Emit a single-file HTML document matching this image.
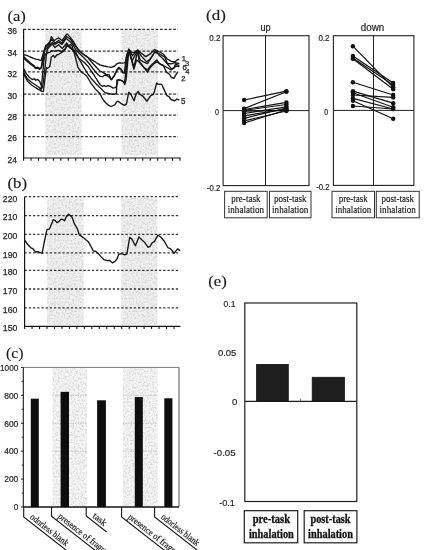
<!DOCTYPE html>
<html><head><meta charset="utf-8"><title>Figure</title>
<style>
html,body{margin:0;padding:0;background:#fff;}
body{width:426px;height:550px;overflow:hidden;font-family:"Liberation Sans", sans-serif;}
svg{display:block;will-change:transform;}
</style></head>
<body>
<svg width="426" height="550" viewBox="0 0 426 550">
<rect width="426" height="550" fill="#fff"/>
<defs>
<filter id="stip" x="0" y="0" width="100%" height="100%" color-interpolation-filters="sRGB">
<feTurbulence type="fractalNoise" baseFrequency="0.55" numOctaves="2" seed="7" result="n"/>
<feColorMatrix in="n" type="matrix" values="0 0 0 0 0.62  0 0 0 0 0.62  0 0 0 0 0.62  0 0 0 -1.6 0.92" result="d"/>
<feComposite in="d" in2="SourceGraphic" operator="in"/>
</filter>
</defs>
<text x="7.40" y="20.60" font-family='"Liberation Serif", serif' font-size="15.5" text-anchor="start" font-weight="normal" fill="#1c1c1c" textLength="18.5" lengthAdjust="spacingAndGlyphs" stroke="#1c1c1c" stroke-width="0.15">(a)</text>
<rect x="45.30" y="29.80" width="36.30" height="125.70" fill="#f0f0f0" stroke="none" stroke-width="1"/>
<rect x="45.30" y="29.80" width="36.30" height="125.70" fill="#fff" stroke="none" stroke-width="1" filter="url(#stip)" opacity="0.55"/>
<rect x="121.50" y="29.80" width="36.50" height="125.70" fill="#f0f0f0" stroke="none" stroke-width="1"/>
<rect x="121.50" y="29.80" width="36.50" height="125.70" fill="#fff" stroke="none" stroke-width="1" filter="url(#stip)" opacity="0.55"/>
<line x1="23.60" y1="29.30" x2="178.00" y2="29.30" stroke="#333" stroke-width="1.3" stroke-dasharray="2.7 1.7"/>
<line x1="23.60" y1="51.10" x2="178.00" y2="51.10" stroke="#333" stroke-width="1.3" stroke-dasharray="2.7 1.7"/>
<line x1="23.60" y1="71.80" x2="178.00" y2="71.80" stroke="#333" stroke-width="1.3" stroke-dasharray="2.7 1.7"/>
<line x1="23.60" y1="94.20" x2="178.00" y2="94.20" stroke="#333" stroke-width="1.3" stroke-dasharray="2.7 1.7"/>
<line x1="23.60" y1="115.20" x2="178.00" y2="115.20" stroke="#333" stroke-width="1.3" stroke-dasharray="2.7 1.7"/>
<line x1="23.60" y1="136.60" x2="178.00" y2="136.60" stroke="#333" stroke-width="1.3" stroke-dasharray="2.7 1.7"/>
<text x="7.40" y="34.10" font-family='"Liberation Sans", sans-serif' font-size="9.2" text-anchor="start" font-weight="normal" fill="#262626" textLength="9.5" lengthAdjust="spacingAndGlyphs" stroke="#262626" stroke-width="0.25">36</text>
<text x="7.40" y="55.90" font-family='"Liberation Sans", sans-serif' font-size="9.2" text-anchor="start" font-weight="normal" fill="#262626" textLength="9.5" lengthAdjust="spacingAndGlyphs" stroke="#262626" stroke-width="0.25">34</text>
<text x="7.40" y="76.60" font-family='"Liberation Sans", sans-serif' font-size="9.2" text-anchor="start" font-weight="normal" fill="#262626" textLength="9.5" lengthAdjust="spacingAndGlyphs" stroke="#262626" stroke-width="0.25">32</text>
<text x="7.40" y="99.00" font-family='"Liberation Sans", sans-serif' font-size="9.2" text-anchor="start" font-weight="normal" fill="#262626" textLength="9.5" lengthAdjust="spacingAndGlyphs" stroke="#262626" stroke-width="0.25">30</text>
<text x="7.40" y="120.00" font-family='"Liberation Sans", sans-serif' font-size="9.2" text-anchor="start" font-weight="normal" fill="#262626" textLength="9.5" lengthAdjust="spacingAndGlyphs" stroke="#262626" stroke-width="0.25">28</text>
<text x="7.40" y="141.40" font-family='"Liberation Sans", sans-serif' font-size="9.2" text-anchor="start" font-weight="normal" fill="#262626" textLength="9.5" lengthAdjust="spacingAndGlyphs" stroke="#262626" stroke-width="0.25">26</text>
<text x="7.40" y="162.80" font-family='"Liberation Sans", sans-serif' font-size="9.2" text-anchor="start" font-weight="normal" fill="#262626" textLength="9.5" lengthAdjust="spacingAndGlyphs" stroke="#262626" stroke-width="0.25">24</text>
<line x1="23.60" y1="29.00" x2="23.60" y2="158.50" stroke="#161616" stroke-width="1.2"/>
<line x1="23.10" y1="158.00" x2="180.50" y2="158.00" stroke="#161616" stroke-width="1.2"/>
<line x1="23.60" y1="158.00" x2="23.60" y2="160.80" stroke="#161616" stroke-width="1.1"/>
<line x1="31.05" y1="158.00" x2="31.05" y2="160.80" stroke="#161616" stroke-width="1.1"/>
<line x1="38.50" y1="158.00" x2="38.50" y2="160.80" stroke="#161616" stroke-width="1.1"/>
<line x1="45.94" y1="158.00" x2="45.94" y2="160.80" stroke="#161616" stroke-width="1.1"/>
<line x1="53.39" y1="158.00" x2="53.39" y2="160.80" stroke="#161616" stroke-width="1.1"/>
<line x1="60.84" y1="158.00" x2="60.84" y2="160.80" stroke="#161616" stroke-width="1.1"/>
<line x1="68.29" y1="158.00" x2="68.29" y2="160.80" stroke="#161616" stroke-width="1.1"/>
<line x1="75.73" y1="158.00" x2="75.73" y2="160.80" stroke="#161616" stroke-width="1.1"/>
<line x1="83.18" y1="158.00" x2="83.18" y2="160.80" stroke="#161616" stroke-width="1.1"/>
<line x1="90.63" y1="158.00" x2="90.63" y2="160.80" stroke="#161616" stroke-width="1.1"/>
<line x1="98.08" y1="158.00" x2="98.08" y2="160.80" stroke="#161616" stroke-width="1.1"/>
<line x1="105.52" y1="158.00" x2="105.52" y2="160.80" stroke="#161616" stroke-width="1.1"/>
<line x1="112.97" y1="158.00" x2="112.97" y2="160.80" stroke="#161616" stroke-width="1.1"/>
<line x1="120.42" y1="158.00" x2="120.42" y2="160.80" stroke="#161616" stroke-width="1.1"/>
<line x1="127.87" y1="158.00" x2="127.87" y2="160.80" stroke="#161616" stroke-width="1.1"/>
<line x1="135.31" y1="158.00" x2="135.31" y2="160.80" stroke="#161616" stroke-width="1.1"/>
<line x1="142.76" y1="158.00" x2="142.76" y2="160.80" stroke="#161616" stroke-width="1.1"/>
<line x1="150.21" y1="158.00" x2="150.21" y2="160.80" stroke="#161616" stroke-width="1.1"/>
<line x1="157.66" y1="158.00" x2="157.66" y2="160.80" stroke="#161616" stroke-width="1.1"/>
<line x1="165.10" y1="158.00" x2="165.10" y2="160.80" stroke="#161616" stroke-width="1.1"/>
<line x1="172.55" y1="158.00" x2="172.55" y2="160.80" stroke="#161616" stroke-width="1.1"/>
<line x1="180.00" y1="158.00" x2="180.00" y2="160.80" stroke="#161616" stroke-width="1.1"/>
<polyline points="23.6,74.0 27.4,80.9 31.5,85.0 35.6,87.7 39.7,90.1 41.8,91.1 43.4,91.5 46.3,67.6 47.6,68.3 49.8,66.4 51.3,57.0 53.6,55.3 54.7,57.7 56.7,55.0 58.8,54.3 62.9,51.6 65.6,48.8 66.5,43.0 68.3,46.0 70.5,44.5 72.2,46.0 74.5,54.0 76.5,61.5 78.0,67.3 80.9,71.6 83.5,73.5 86.7,76.0 91.1,83.3 95.5,89.1 99.8,93.5 102.0,97.8 103.7,100.5 106.0,103.0 108.3,105.2 111.2,106.5 114.8,104.9 116.9,101.7 118.0,101.2 121.6,103.9 124.3,105.4 126.5,103.9 128.7,92.3 130.5,93.6 132.3,97.2 134.1,100.8 135.9,94.5 138.1,91.4 139.9,94.5 142.6,95.8 144.8,98.5 147.0,101.2 149.3,97.6 151.0,95.4 153.3,94.5 154.6,90.9 156.7,82.9 157.7,84.0 161.6,84.3 166.9,95.6 169.0,96.7 171.1,99.5 174.6,100.9 176.8,99.1 178.9,99.8" fill="none" stroke="#161616" stroke-width="1.35" stroke-linejoin="round" stroke-linecap="round"/>
<polyline points="23.6,72.0 27.4,78.8 31.5,82.2 35.6,85.0 39.7,87.7 41.0,90.8 44.0,60.0 45.3,54.0 47.3,53.0 50.0,52.1 51.8,50.7 55.0,51.2 58.2,50.3 61.8,51.6 65.5,48.5 67.5,45.5 70.0,48.0 72.9,50.0 75.1,50.5 78.0,57.1 83.8,67.3 88.2,74.5 91.1,78.2 95.5,83.3 99.8,87.6 102.0,89.6 104.9,92.6 108.2,93.4 111.4,94.2 114.7,94.2 116.4,93.4 117.0,80.0 119.6,79.9 122.1,80.8 123.7,82.0 124.7,84.5 126.1,80.0 128.8,50.0 133.9,69.2 136.5,60.0 139.1,62.0 143.8,67.4 147.5,72.0 150.4,67.4 154.1,63.6 156.9,61.7 160.7,64.5 163.2,65.5 166.5,72.1 169.4,74.2 171.4,77.5 173.9,78.3 176.0,74.6 177.6,72.1" fill="none" stroke="#161616" stroke-width="1.35" stroke-linejoin="round" stroke-linecap="round"/>
<polyline points="23.6,68.6 26.1,73.4 29.5,77.5 32.2,79.5 34.3,78.8 35.6,80.2 37.7,79.5 39.7,81.5 41.1,85.0 42.6,88.0 45.9,60.0 46.7,52.0 47.6,49.0 49.1,47.1 52.3,43.9 55.0,47.5 58.6,44.8 62.3,48.5 66.4,43.5 69.0,45.5 72.0,49.0 75.9,54.2 79.0,58.5 83.8,62.0 88.2,66.5 91.1,71.0 94.0,75.0 97.0,80.0 100.0,84.4 102.5,86.5 104.1,85.7 105.7,86.5 108.2,85.7 110.6,86.5 113.1,88.1 115.1,87.7 116.4,86.5 117.2,83.6 118.0,80.3 119.6,79.9 122.1,80.8 123.7,82.0 124.5,83.2 125.5,75.0 128.8,50.0 133.9,67.0 137.7,51.0 139.1,60.8 143.8,67.4 147.5,70.0 150.4,66.0 154.1,62.5 156.9,60.0 159.1,63.1 161.6,64.7 165.0,66.4 168.0,68.0 171.0,70.0 174.0,68.0 176.0,66.0 178.8,66.5" fill="none" stroke="#161616" stroke-width="1.35" stroke-linejoin="round" stroke-linecap="round"/>
<polyline points="23.6,58.2 26.1,60.5 28.8,62.8 31.5,65.0 34.3,67.0 35.6,68.5 37.7,68.0 39.7,69.4 41.5,67.5 43.1,60.0 44.8,50.0 46.8,48.0 49.1,45.5 52.3,42.5 55.0,44.4 58.6,42.0 62.0,44.4 66.0,38.5 70.0,41.5 73.0,45.0 76.0,50.0 79.5,53.5 83.0,57.0 86.0,60.0 89.5,64.0 92.9,68.5 96.5,73.0 100.0,76.3 102.5,76.7 104.9,75.0 107.4,75.8 110.0,78.0 111.4,79.8 114.3,75.8 117.2,70.0 118.8,68.2 121.3,70.3 122.9,72.8 124.5,73.2 125.5,71.0 126.5,62.0 128.8,49.5 132.0,60.8 137.7,50.5 140.0,59.8 143.8,62.2 147.5,63.6 151.0,58.0 155.5,50.5 159.0,55.0 163.2,59.0 168.1,64.7 171.4,68.8 173.9,68.0 175.5,63.9 178.8,65.5" fill="none" stroke="#161616" stroke-width="1.35" stroke-linejoin="round" stroke-linecap="round"/>
<polyline points="23.6,56.6 26.1,59.1 28.8,61.5 31.5,63.8 34.3,65.9 35.6,67.9 37.7,67.2 39.7,68.6 41.1,67.8 42.6,60.0 44.5,49.5 46.5,46.0 49.1,42.5 51.8,39.5 55.0,43.0 58.6,40.5 62.0,43.0 66.5,36.5 70.7,39.5 75.0,45.5 79.0,50.5 83.0,54.0 87.0,56.5 91.5,62.0 97.0,68.0 100.0,71.0 103.3,72.6 106.5,74.6 109.0,74.6 111.4,79.5 114.3,75.4 117.2,69.3 118.8,67.3 121.3,69.3 122.9,72.2 124.5,72.6 126.0,58.0 128.8,49.3 132.5,55.6 137.7,50.2 141.4,56.1 146.6,61.7 150.4,58.9 154.6,52.3 158.0,53.0 164.9,57.3 167.3,63.5 171.4,63.9 174.7,62.7 178.8,63.5" fill="none" stroke="#161616" stroke-width="1.35" stroke-linejoin="round" stroke-linecap="round"/>
<polyline points="23.6,54.7 27.4,55.7 30.2,57.0 32.9,58.1 35.6,59.1 37.7,59.3 39.7,60.1 41.1,60.7 42.4,56.3 43.8,51.6 45.8,45.4 47.5,44.6 49.5,44.0 51.3,36.6 54.0,40.7 56.5,39.0 58.8,37.9 62.2,40.7 64.5,37.0 67.0,33.9 70.7,37.8 74.0,42.5 77.4,48.5 81.0,52.5 85.2,55.8 89.0,58.0 92.6,60.4 96.5,62.8 100.0,64.8 104.1,66.0 108.2,66.9 111.4,67.3 114.7,66.0 117.2,63.6 119.6,62.8 122.1,63.2 124.5,62.8 126.2,61.5 127.0,55.0 128.8,49.1 131.0,52.0 133.9,52.8 137.7,50.0 141.4,53.3 145.7,56.6 149.9,54.2 154.6,49.5 158.0,51.0 163.2,54.0 167.3,59.0 171.4,61.4 175.1,61.8 176.8,60.2 178.8,59.4" fill="none" stroke="#161616" stroke-width="1.35" stroke-linejoin="round" stroke-linecap="round"/>
<text x="181.80" y="61.00" font-family='"Liberation Sans", sans-serif' font-size="7.6" text-anchor="start" font-weight="normal" fill="#1e1e1e" stroke="#1e1e1e" stroke-width="0.25">1</text>
<text x="184.90" y="65.60" font-family='"Liberation Sans", sans-serif' font-size="7.6" text-anchor="start" font-weight="normal" fill="#1e1e1e" stroke="#1e1e1e" stroke-width="0.25">3</text>
<text x="182.40" y="70.10" font-family='"Liberation Sans", sans-serif' font-size="7.6" text-anchor="start" font-weight="normal" fill="#1e1e1e" stroke="#1e1e1e" stroke-width="0.25">6</text>
<text x="185.30" y="74.30" font-family='"Liberation Sans", sans-serif' font-size="7.6" text-anchor="start" font-weight="normal" fill="#1e1e1e" stroke="#1e1e1e" stroke-width="0.25">4</text>
<text x="181.20" y="81.30" font-family='"Liberation Sans", sans-serif' font-size="7.6" text-anchor="start" font-weight="normal" fill="#1e1e1e" stroke="#1e1e1e" stroke-width="0.25">2</text>
<text x="180.90" y="103.80" font-family='"Liberation Sans", sans-serif' font-size="9.4" text-anchor="start" font-weight="normal" fill="#1e1e1e" textLength="4.5" lengthAdjust="spacingAndGlyphs" stroke="#1e1e1e" stroke-width="0.25">5</text>
<text x="7.50" y="187.50" font-family='"Liberation Serif", serif' font-size="15.5" text-anchor="start" font-weight="normal" fill="#1c1c1c" textLength="19.7" lengthAdjust="spacingAndGlyphs" stroke="#1c1c1c" stroke-width="0.15">(b)</text>
<rect x="47.00" y="198.00" width="36.70" height="126.70" fill="#f0f0f0" stroke="none" stroke-width="1"/>
<rect x="47.00" y="198.00" width="36.70" height="126.70" fill="#fff" stroke="none" stroke-width="1" filter="url(#stip)" opacity="0.55"/>
<rect x="121.30" y="198.00" width="36.20" height="126.70" fill="#f0f0f0" stroke="none" stroke-width="1"/>
<rect x="121.30" y="198.00" width="36.20" height="126.70" fill="#fff" stroke="none" stroke-width="1" filter="url(#stip)" opacity="0.55"/>
<line x1="24.60" y1="196.70" x2="179.20" y2="196.70" stroke="#383838" stroke-width="1.3" stroke-dasharray="2.3 1.9"/>
<line x1="24.60" y1="215.60" x2="179.20" y2="215.60" stroke="#383838" stroke-width="1.3" stroke-dasharray="2.3 1.9"/>
<line x1="24.60" y1="234.40" x2="179.20" y2="234.40" stroke="#383838" stroke-width="1.3" stroke-dasharray="2.3 1.9"/>
<line x1="24.60" y1="252.90" x2="179.20" y2="252.90" stroke="#383838" stroke-width="1.3" stroke-dasharray="2.3 1.9"/>
<line x1="24.60" y1="270.30" x2="179.20" y2="270.30" stroke="#383838" stroke-width="1.3" stroke-dasharray="2.3 1.9"/>
<line x1="24.60" y1="289.00" x2="179.20" y2="289.00" stroke="#383838" stroke-width="1.3" stroke-dasharray="2.3 1.9"/>
<line x1="24.60" y1="307.80" x2="179.20" y2="307.80" stroke="#383838" stroke-width="1.3" stroke-dasharray="2.3 1.9"/>
<text x="2.80" y="201.50" font-family='"Liberation Sans", sans-serif' font-size="9.2" text-anchor="start" font-weight="normal" fill="#262626" textLength="14.5" lengthAdjust="spacingAndGlyphs" stroke="#262626" stroke-width="0.25">220</text>
<text x="2.80" y="220.40" font-family='"Liberation Sans", sans-serif' font-size="9.2" text-anchor="start" font-weight="normal" fill="#262626" textLength="14.5" lengthAdjust="spacingAndGlyphs" stroke="#262626" stroke-width="0.25">210</text>
<text x="2.80" y="239.20" font-family='"Liberation Sans", sans-serif' font-size="9.2" text-anchor="start" font-weight="normal" fill="#262626" textLength="14.5" lengthAdjust="spacingAndGlyphs" stroke="#262626" stroke-width="0.25">200</text>
<text x="2.80" y="257.70" font-family='"Liberation Sans", sans-serif' font-size="9.2" text-anchor="start" font-weight="normal" fill="#262626" textLength="14.5" lengthAdjust="spacingAndGlyphs" stroke="#262626" stroke-width="0.25">190</text>
<text x="2.80" y="275.10" font-family='"Liberation Sans", sans-serif' font-size="9.2" text-anchor="start" font-weight="normal" fill="#262626" textLength="14.5" lengthAdjust="spacingAndGlyphs" stroke="#262626" stroke-width="0.25">180</text>
<text x="2.80" y="293.80" font-family='"Liberation Sans", sans-serif' font-size="9.2" text-anchor="start" font-weight="normal" fill="#262626" textLength="14.5" lengthAdjust="spacingAndGlyphs" stroke="#262626" stroke-width="0.25">170</text>
<text x="2.80" y="312.60" font-family='"Liberation Sans", sans-serif' font-size="9.2" text-anchor="start" font-weight="normal" fill="#262626" textLength="14.5" lengthAdjust="spacingAndGlyphs" stroke="#262626" stroke-width="0.25">160</text>
<text x="2.80" y="331.10" font-family='"Liberation Sans", sans-serif' font-size="9.2" text-anchor="start" font-weight="normal" fill="#262626" textLength="14.5" lengthAdjust="spacingAndGlyphs" stroke="#262626" stroke-width="0.25">150</text>
<line x1="24.60" y1="196.70" x2="24.60" y2="326.80" stroke="#161616" stroke-width="1.2"/>
<line x1="24.10" y1="326.30" x2="180.50" y2="326.30" stroke="#161616" stroke-width="1.2"/>
<line x1="24.60" y1="326.30" x2="24.60" y2="329.10" stroke="#161616" stroke-width="1.1"/>
<line x1="32.07" y1="326.30" x2="32.07" y2="329.10" stroke="#161616" stroke-width="1.1"/>
<line x1="39.54" y1="326.30" x2="39.54" y2="329.10" stroke="#161616" stroke-width="1.1"/>
<line x1="47.01" y1="326.30" x2="47.01" y2="329.10" stroke="#161616" stroke-width="1.1"/>
<line x1="54.48" y1="326.30" x2="54.48" y2="329.10" stroke="#161616" stroke-width="1.1"/>
<line x1="61.95" y1="326.30" x2="61.95" y2="329.10" stroke="#161616" stroke-width="1.1"/>
<line x1="69.42" y1="326.30" x2="69.42" y2="329.10" stroke="#161616" stroke-width="1.1"/>
<line x1="76.89" y1="326.30" x2="76.89" y2="329.10" stroke="#161616" stroke-width="1.1"/>
<line x1="84.36" y1="326.30" x2="84.36" y2="329.10" stroke="#161616" stroke-width="1.1"/>
<line x1="91.83" y1="326.30" x2="91.83" y2="329.10" stroke="#161616" stroke-width="1.1"/>
<line x1="99.30" y1="326.30" x2="99.30" y2="329.10" stroke="#161616" stroke-width="1.1"/>
<line x1="106.77" y1="326.30" x2="106.77" y2="329.10" stroke="#161616" stroke-width="1.1"/>
<line x1="114.24" y1="326.30" x2="114.24" y2="329.10" stroke="#161616" stroke-width="1.1"/>
<line x1="121.71" y1="326.30" x2="121.71" y2="329.10" stroke="#161616" stroke-width="1.1"/>
<line x1="129.18" y1="326.30" x2="129.18" y2="329.10" stroke="#161616" stroke-width="1.1"/>
<line x1="136.65" y1="326.30" x2="136.65" y2="329.10" stroke="#161616" stroke-width="1.1"/>
<line x1="144.12" y1="326.30" x2="144.12" y2="329.10" stroke="#161616" stroke-width="1.1"/>
<line x1="151.59" y1="326.30" x2="151.59" y2="329.10" stroke="#161616" stroke-width="1.1"/>
<line x1="159.06" y1="326.30" x2="159.06" y2="329.10" stroke="#161616" stroke-width="1.1"/>
<line x1="166.53" y1="326.30" x2="166.53" y2="329.10" stroke="#161616" stroke-width="1.1"/>
<line x1="174.00" y1="326.30" x2="174.00" y2="329.10" stroke="#161616" stroke-width="1.1"/>
<polyline points="24.6,240.2 27.0,243.5 29.5,246.5 31.0,247.8 32.8,248.7 34.3,250.5 35.7,252.0 38.1,251.7 39.8,252.5 42.2,253.1 44.5,241.0 46.9,229.6 49.2,229.1 50.4,226.7 53.3,219.7 55.1,220.3 56.9,222.6 59.2,221.4 61.0,219.1 63.3,219.7 64.5,220.8 66.3,216.7 68.4,214.2 70.4,215.6 72.1,217.3 74.2,223.4 76.3,226.9 77.7,229.7 79.2,234.6 84.1,238.2 88.3,241.7 91.1,246.6 93.2,250.8 96.0,251.5 99.6,255.1 103.8,259.6 107.3,260.7 109.4,260.3 112.3,262.8 115.1,261.4 117.2,258.6 118.6,254.4 121.4,253.7 124.8,254.9 126.9,253.9 129.7,237.4 131.9,239.1 135.4,245.8 138.9,237.0 141.7,239.8 144.5,242.2 148.1,247.3 150.2,246.1 152.3,242.6 154.4,241.6 157.9,235.1 160.7,237.0 164.3,241.2 167.8,247.5 170.6,248.9 174.1,253.2 177.6,248.9 179.7,250.4" fill="none" stroke="#161616" stroke-width="1.35" stroke-linejoin="round" stroke-linecap="round"/>
<text x="6.10" y="358.00" font-family='"Liberation Serif", serif' font-size="15.5" text-anchor="start" font-weight="normal" fill="#1c1c1c" textLength="17.4" lengthAdjust="spacingAndGlyphs" stroke="#1c1c1c" stroke-width="0.15">(c)</text>
<rect x="52.50" y="368.00" width="34.50" height="138.50" fill="#f5f5f5" stroke="none" stroke-width="1"/>
<rect x="52.50" y="368.00" width="34.50" height="138.50" fill="#fff" stroke="none" stroke-width="1" filter="url(#stip)" opacity="0.55"/>
<rect x="122.80" y="368.00" width="35.00" height="138.50" fill="#f5f5f5" stroke="none" stroke-width="1"/>
<rect x="122.80" y="368.00" width="35.00" height="138.50" fill="#fff" stroke="none" stroke-width="1" filter="url(#stip)" opacity="0.55"/>
<line x1="52.50" y1="395.32" x2="87.00" y2="395.32" stroke="#bdbdbd" stroke-width="0.8" stroke-dasharray="1.5 1.0"/>
<line x1="122.80" y1="395.32" x2="157.80" y2="395.32" stroke="#bdbdbd" stroke-width="0.8" stroke-dasharray="1.5 1.0"/>
<line x1="52.50" y1="423.24" x2="87.00" y2="423.24" stroke="#bdbdbd" stroke-width="0.8" stroke-dasharray="1.5 1.0"/>
<line x1="122.80" y1="423.24" x2="157.80" y2="423.24" stroke="#bdbdbd" stroke-width="0.8" stroke-dasharray="1.5 1.0"/>
<line x1="52.50" y1="451.16" x2="87.00" y2="451.16" stroke="#bdbdbd" stroke-width="0.8" stroke-dasharray="1.5 1.0"/>
<line x1="122.80" y1="451.16" x2="157.80" y2="451.16" stroke="#bdbdbd" stroke-width="0.8" stroke-dasharray="1.5 1.0"/>
<line x1="23.30" y1="367.40" x2="179.00" y2="367.40" stroke="#7a7a7a" stroke-width="1.0"/>
<line x1="179.00" y1="367.40" x2="179.00" y2="507.00" stroke="#555" stroke-width="1.0"/>
<line x1="23.30" y1="367.40" x2="23.30" y2="507.00" stroke="#161616" stroke-width="1.1"/>
<line x1="23.30" y1="507.00" x2="179.00" y2="507.00" stroke="#161616" stroke-width="1.3"/>
<line x1="21.00" y1="507.00" x2="23.30" y2="507.00" stroke="#161616" stroke-width="1"/>
<text x="13.70" y="510.30" font-family='"Liberation Sans", sans-serif' font-size="8.4" text-anchor="start" font-weight="normal" fill="#262626" textLength="4.6" lengthAdjust="spacingAndGlyphs" stroke="#262626" stroke-width="0.2">0</text>
<line x1="21.00" y1="479.08" x2="23.30" y2="479.08" stroke="#161616" stroke-width="1"/>
<text x="4.20" y="482.38" font-family='"Liberation Sans", sans-serif' font-size="8.4" text-anchor="start" font-weight="normal" fill="#262626" textLength="14.1" lengthAdjust="spacingAndGlyphs" stroke="#262626" stroke-width="0.2">200</text>
<line x1="21.00" y1="451.16" x2="23.30" y2="451.16" stroke="#161616" stroke-width="1"/>
<text x="4.20" y="454.46" font-family='"Liberation Sans", sans-serif' font-size="8.4" text-anchor="start" font-weight="normal" fill="#262626" textLength="14.1" lengthAdjust="spacingAndGlyphs" stroke="#262626" stroke-width="0.2">400</text>
<line x1="21.00" y1="423.24" x2="23.30" y2="423.24" stroke="#161616" stroke-width="1"/>
<text x="4.20" y="426.54" font-family='"Liberation Sans", sans-serif' font-size="8.4" text-anchor="start" font-weight="normal" fill="#262626" textLength="14.1" lengthAdjust="spacingAndGlyphs" stroke="#262626" stroke-width="0.2">600</text>
<line x1="21.00" y1="395.32" x2="23.30" y2="395.32" stroke="#161616" stroke-width="1"/>
<text x="4.20" y="398.62" font-family='"Liberation Sans", sans-serif' font-size="8.4" text-anchor="start" font-weight="normal" fill="#262626" textLength="14.1" lengthAdjust="spacingAndGlyphs" stroke="#262626" stroke-width="0.2">800</text>
<line x1="21.00" y1="367.40" x2="23.30" y2="367.40" stroke="#161616" stroke-width="1"/>
<text x="0.00" y="370.70" font-family='"Liberation Sans", sans-serif' font-size="8.4" text-anchor="start" font-weight="normal" fill="#262626" textLength="18.3" lengthAdjust="spacingAndGlyphs" stroke="#262626" stroke-width="0.2">1000</text>
<line x1="21.70" y1="493.04" x2="23.30" y2="493.04" stroke="#161616" stroke-width="0.9"/>
<line x1="21.70" y1="465.12" x2="23.30" y2="465.12" stroke="#161616" stroke-width="0.9"/>
<line x1="21.70" y1="437.20" x2="23.30" y2="437.20" stroke="#161616" stroke-width="0.9"/>
<line x1="21.70" y1="409.28" x2="23.30" y2="409.28" stroke="#161616" stroke-width="0.9"/>
<line x1="21.70" y1="381.36" x2="23.30" y2="381.36" stroke="#161616" stroke-width="0.9"/>
<rect x="30.80" y="398.70" width="8.00" height="108.30" fill="#0e0e0e" stroke="none" stroke-width="1"/>
<rect x="60.60" y="391.90" width="8.40" height="115.10" fill="#0e0e0e" stroke="none" stroke-width="1"/>
<rect x="97.10" y="400.30" width="8.80" height="106.70" fill="#0e0e0e" stroke="none" stroke-width="1"/>
<rect x="134.80" y="397.10" width="8.00" height="109.90" fill="#0e0e0e" stroke="none" stroke-width="1"/>
<rect x="164.30" y="398.30" width="8.10" height="108.70" fill="#0e0e0e" stroke="none" stroke-width="1"/>
<polyline points="23.7,507.0 23.7,517.0 118.3,590.9" fill="none" stroke="#161616" stroke-width="1.1"/>
<text transform="translate(23.7,517.0) rotate(38.0)" x="5.3" y="-2.8" font-family='"Liberation Serif", serif' font-size="9.2" fill="#1e1e1e" stroke="#1e1e1e" stroke-width="0.2" textLength="46.0" lengthAdjust="spacingAndGlyphs">odorless blank</text>
<polyline points="51.5,507.0 51.5,516.3 146.1,590.2" fill="none" stroke="#161616" stroke-width="1.1"/>
<text transform="translate(51.5,516.3) rotate(38.0)" x="5.3" y="-2.8" font-family='"Liberation Serif", serif' font-size="9.2" fill="#1e1e1e" stroke="#1e1e1e" stroke-width="0.2" textLength="72.0" lengthAdjust="spacingAndGlyphs">presence of fragrance</text>
<polyline points="86.2,507.0 86.2,516.0 106.7,532.0" fill="none" stroke="#161616" stroke-width="1.1"/>
<text transform="translate(86.2,516.0) rotate(38.0)" x="5.3" y="-2.8" font-family='"Liberation Serif", serif' font-size="9.2" fill="#1e1e1e" stroke="#1e1e1e" stroke-width="0.2" textLength="15.0" lengthAdjust="spacingAndGlyphs">task</text>
<polyline points="121.6,507.0 121.6,516.9 216.2,590.8" fill="none" stroke="#161616" stroke-width="1.1"/>
<text transform="translate(121.6,516.9) rotate(38.0)" x="5.3" y="-2.8" font-family='"Liberation Serif", serif' font-size="9.2" fill="#1e1e1e" stroke="#1e1e1e" stroke-width="0.2" textLength="72.0" lengthAdjust="spacingAndGlyphs">presence of fragrance</text>
<polyline points="154.6,507.0 154.6,516.9 249.2,590.8" fill="none" stroke="#161616" stroke-width="1.1"/>
<text transform="translate(154.6,516.9) rotate(38.0)" x="5.3" y="-2.8" font-family='"Liberation Serif", serif' font-size="9.2" fill="#1e1e1e" stroke="#1e1e1e" stroke-width="0.2" textLength="46.0" lengthAdjust="spacingAndGlyphs">odorless blank</text>
<text x="206.10" y="19.60" font-family='"Liberation Serif", serif' font-size="15.5" text-anchor="start" font-weight="normal" fill="#1c1c1c" textLength="19.7" lengthAdjust="spacingAndGlyphs" stroke="#1c1c1c" stroke-width="0.15">(d)</text>
<line x1="265.50" y1="35.70" x2="265.50" y2="185.60" stroke="#222" stroke-width="1.0"/>
<line x1="223.10" y1="110.60" x2="309.00" y2="110.60" stroke="#222" stroke-width="1.0"/>
<rect x="223.10" y="35.70" width="85.90" height="149.90" fill="none" stroke="#222" stroke-width="1.1"/>
<text x="260.50" y="30.60" font-family='"Liberation Sans", sans-serif' font-size="10" text-anchor="start" font-weight="normal" fill="#1e1e1e" textLength="10.2" lengthAdjust="spacingAndGlyphs" stroke="#1e1e1e" stroke-width="0.2">up</text>
<line x1="244.10" y1="100.00" x2="286.40" y2="91.20" stroke="#111" stroke-width="1.2"/>
<line x1="244.10" y1="108.60" x2="286.40" y2="91.80" stroke="#111" stroke-width="1.2"/>
<line x1="244.10" y1="109.50" x2="286.40" y2="102.40" stroke="#111" stroke-width="1.2"/>
<line x1="244.10" y1="110.40" x2="286.40" y2="104.50" stroke="#111" stroke-width="1.2"/>
<line x1="244.10" y1="111.20" x2="286.40" y2="110.50" stroke="#111" stroke-width="1.2"/>
<line x1="244.10" y1="113.50" x2="286.40" y2="106.80" stroke="#111" stroke-width="1.2"/>
<line x1="244.10" y1="115.80" x2="286.40" y2="109.00" stroke="#111" stroke-width="1.2"/>
<line x1="244.10" y1="118.30" x2="286.40" y2="108.00" stroke="#111" stroke-width="1.2"/>
<line x1="244.10" y1="120.80" x2="286.40" y2="111.00" stroke="#111" stroke-width="1.2"/>
<line x1="244.10" y1="123.00" x2="286.40" y2="110.00" stroke="#111" stroke-width="1.2"/>
<circle cx="244.1" cy="100.0" r="2.2" fill="#111"/>
<circle cx="286.4" cy="91.2" r="2.2" fill="#111"/>
<circle cx="244.1" cy="108.6" r="2.2" fill="#111"/>
<circle cx="286.4" cy="91.8" r="2.2" fill="#111"/>
<circle cx="244.1" cy="109.5" r="2.2" fill="#111"/>
<circle cx="286.4" cy="102.4" r="2.2" fill="#111"/>
<circle cx="244.1" cy="110.4" r="2.2" fill="#111"/>
<circle cx="286.4" cy="104.5" r="2.2" fill="#111"/>
<circle cx="244.1" cy="111.2" r="2.2" fill="#111"/>
<circle cx="286.4" cy="110.5" r="2.2" fill="#111"/>
<circle cx="244.1" cy="113.5" r="2.2" fill="#111"/>
<circle cx="286.4" cy="106.8" r="2.2" fill="#111"/>
<circle cx="244.1" cy="115.8" r="2.2" fill="#111"/>
<circle cx="286.4" cy="109.0" r="2.2" fill="#111"/>
<circle cx="244.1" cy="118.3" r="2.2" fill="#111"/>
<circle cx="286.4" cy="108.0" r="2.2" fill="#111"/>
<circle cx="244.1" cy="120.8" r="2.2" fill="#111"/>
<circle cx="286.4" cy="111.0" r="2.2" fill="#111"/>
<circle cx="244.1" cy="123.0" r="2.2" fill="#111"/>
<circle cx="286.4" cy="110.0" r="2.2" fill="#111"/>
<text x="209.20" y="40.70" font-family='"Liberation Sans", sans-serif' font-size="8.6" text-anchor="start" font-weight="normal" fill="#262626" textLength="11.2" lengthAdjust="spacingAndGlyphs" stroke="#262626" stroke-width="0.2">0.2</text>
<text x="215.10" y="114.80" font-family='"Liberation Sans", sans-serif' font-size="8.6" text-anchor="start" font-weight="normal" fill="#262626" textLength="3.9" lengthAdjust="spacingAndGlyphs" stroke="#262626" stroke-width="0.2">0</text>
<text x="207.00" y="190.60" font-family='"Liberation Sans", sans-serif' font-size="8.6" text-anchor="start" font-weight="normal" fill="#262626" textLength="13.4" lengthAdjust="spacingAndGlyphs" stroke="#262626" stroke-width="0.2">-0.2</text>
<rect x="224.60" y="191.30" width="42.60" height="26.50" fill="none" stroke="#333" stroke-width="1.0"/>
<text x="231.30" y="202.00" font-family='"Liberation Serif", serif' font-size="9.6" text-anchor="start" font-weight="normal" fill="#1a1a1a" textLength="29.2" lengthAdjust="spacingAndGlyphs" stroke="#1a1a1a" stroke-width="0.15">pre-task</text>
<text x="227.85" y="212.80" font-family='"Liberation Serif", serif' font-size="9.6" text-anchor="start" font-weight="normal" fill="#1a1a1a" textLength="36.1" lengthAdjust="spacingAndGlyphs" stroke="#1a1a1a" stroke-width="0.15">inhalation</text>
<rect x="269.50" y="191.30" width="41.50" height="26.50" fill="none" stroke="#333" stroke-width="1.0"/>
<text x="274.05" y="202.00" font-family='"Liberation Serif", serif' font-size="9.6" text-anchor="start" font-weight="normal" fill="#1a1a1a" textLength="32.4" lengthAdjust="spacingAndGlyphs" stroke="#1a1a1a" stroke-width="0.15">post-task</text>
<text x="272.10" y="212.80" font-family='"Liberation Serif", serif' font-size="9.6" text-anchor="start" font-weight="normal" fill="#1a1a1a" textLength="36.3" lengthAdjust="spacingAndGlyphs" stroke="#1a1a1a" stroke-width="0.15">inhalation</text>
<line x1="373.50" y1="35.70" x2="373.50" y2="185.40" stroke="#222" stroke-width="1.0"/>
<line x1="333.40" y1="110.40" x2="413.90" y2="110.40" stroke="#222" stroke-width="1.0"/>
<rect x="333.40" y="35.70" width="80.50" height="149.70" fill="none" stroke="#222" stroke-width="1.1"/>
<text x="360.80" y="30.60" font-family='"Liberation Sans", sans-serif' font-size="10" text-anchor="start" font-weight="normal" fill="#1e1e1e" textLength="23.3" lengthAdjust="spacingAndGlyphs" stroke="#1e1e1e" stroke-width="0.2">down</text>
<line x1="352.90" y1="46.20" x2="393.20" y2="87.30" stroke="#111" stroke-width="1.2"/>
<line x1="352.90" y1="56.00" x2="393.20" y2="83.00" stroke="#111" stroke-width="1.2"/>
<line x1="352.90" y1="58.00" x2="393.20" y2="85.10" stroke="#111" stroke-width="1.2"/>
<line x1="352.90" y1="58.80" x2="393.20" y2="89.20" stroke="#111" stroke-width="1.2"/>
<line x1="352.90" y1="82.30" x2="393.20" y2="95.00" stroke="#111" stroke-width="1.2"/>
<line x1="352.90" y1="91.20" x2="393.20" y2="103.20" stroke="#111" stroke-width="1.2"/>
<line x1="352.90" y1="92.80" x2="393.20" y2="107.30" stroke="#111" stroke-width="1.2"/>
<line x1="352.90" y1="95.00" x2="393.20" y2="97.40" stroke="#111" stroke-width="1.2"/>
<line x1="352.90" y1="98.30" x2="393.20" y2="109.00" stroke="#111" stroke-width="1.2"/>
<line x1="352.90" y1="100.70" x2="393.20" y2="118.80" stroke="#111" stroke-width="1.2"/>
<line x1="352.90" y1="106.00" x2="393.20" y2="109.00" stroke="#111" stroke-width="1.2"/>
<circle cx="352.9" cy="46.2" r="2.2" fill="#111"/>
<circle cx="393.2" cy="87.3" r="2.2" fill="#111"/>
<circle cx="352.9" cy="56.0" r="2.2" fill="#111"/>
<circle cx="393.2" cy="83.0" r="2.2" fill="#111"/>
<circle cx="352.9" cy="58.0" r="2.2" fill="#111"/>
<circle cx="393.2" cy="85.1" r="2.2" fill="#111"/>
<circle cx="352.9" cy="58.8" r="2.2" fill="#111"/>
<circle cx="393.2" cy="89.2" r="2.2" fill="#111"/>
<circle cx="352.9" cy="82.3" r="2.2" fill="#111"/>
<circle cx="393.2" cy="95.0" r="2.2" fill="#111"/>
<circle cx="352.9" cy="91.2" r="2.2" fill="#111"/>
<circle cx="393.2" cy="103.2" r="2.2" fill="#111"/>
<circle cx="352.9" cy="92.8" r="2.2" fill="#111"/>
<circle cx="393.2" cy="107.3" r="2.2" fill="#111"/>
<circle cx="352.9" cy="95.0" r="2.2" fill="#111"/>
<circle cx="393.2" cy="97.4" r="2.2" fill="#111"/>
<circle cx="352.9" cy="98.3" r="2.2" fill="#111"/>
<circle cx="393.2" cy="109.0" r="2.2" fill="#111"/>
<circle cx="352.9" cy="100.7" r="2.2" fill="#111"/>
<circle cx="393.2" cy="118.8" r="2.2" fill="#111"/>
<circle cx="352.9" cy="106.0" r="2.2" fill="#111"/>
<circle cx="393.2" cy="109.0" r="2.2" fill="#111"/>
<text x="318.40" y="40.70" font-family='"Liberation Sans", sans-serif' font-size="8.6" text-anchor="start" font-weight="normal" fill="#262626" textLength="11.2" lengthAdjust="spacingAndGlyphs" stroke="#262626" stroke-width="0.2">0.2</text>
<text x="324.30" y="114.60" font-family='"Liberation Sans", sans-serif' font-size="8.6" text-anchor="start" font-weight="normal" fill="#262626" textLength="3.9" lengthAdjust="spacingAndGlyphs" stroke="#262626" stroke-width="0.2">0</text>
<text x="316.20" y="190.40" font-family='"Liberation Sans", sans-serif' font-size="8.6" text-anchor="start" font-weight="normal" fill="#262626" textLength="13.4" lengthAdjust="spacingAndGlyphs" stroke="#262626" stroke-width="0.2">-0.2</text>
<rect x="332.00" y="191.30" width="42.50" height="26.50" fill="none" stroke="#333" stroke-width="1.0"/>
<text x="338.65" y="202.00" font-family='"Liberation Serif", serif' font-size="9.6" text-anchor="start" font-weight="normal" fill="#1a1a1a" textLength="29.2" lengthAdjust="spacingAndGlyphs" stroke="#1a1a1a" stroke-width="0.15">pre-task</text>
<text x="335.20" y="212.80" font-family='"Liberation Serif", serif' font-size="9.6" text-anchor="start" font-weight="normal" fill="#1a1a1a" textLength="36.1" lengthAdjust="spacingAndGlyphs" stroke="#1a1a1a" stroke-width="0.15">inhalation</text>
<rect x="376.30" y="191.30" width="42.90" height="26.50" fill="none" stroke="#333" stroke-width="1.0"/>
<text x="381.55" y="202.00" font-family='"Liberation Serif", serif' font-size="9.6" text-anchor="start" font-weight="normal" fill="#1a1a1a" textLength="32.4" lengthAdjust="spacingAndGlyphs" stroke="#1a1a1a" stroke-width="0.15">post-task</text>
<text x="379.60" y="212.80" font-family='"Liberation Serif", serif' font-size="9.6" text-anchor="start" font-weight="normal" fill="#1a1a1a" textLength="36.3" lengthAdjust="spacingAndGlyphs" stroke="#1a1a1a" stroke-width="0.15">inhalation</text>
<text x="208.30" y="286.20" font-family='"Liberation Serif", serif' font-size="15.5" text-anchor="start" font-weight="normal" fill="#1c1c1c" textLength="18.5" lengthAdjust="spacingAndGlyphs" stroke="#1c1c1c" stroke-width="0.15">(e)</text>
<rect x="256.60" y="364.40" width="31.70" height="36.90" fill="#1e1e1e" stroke="#111" stroke-width="0.8"/>
<rect x="312.20" y="377.30" width="32.20" height="24.00" fill="#1e1e1e" stroke="#111" stroke-width="0.8"/>
<rect x="244.80" y="303.00" width="112.00" height="198.50" fill="none" stroke="#1e1e1e" stroke-width="1.2"/>
<line x1="244.80" y1="401.30" x2="356.80" y2="401.30" stroke="#1e1e1e" stroke-width="1.2"/>
<line x1="300.50" y1="398.80" x2="300.50" y2="401.30" stroke="#444" stroke-width="0.8"/>
<text x="223.60" y="306.70" font-family='"Liberation Sans", sans-serif' font-size="9.2" text-anchor="start" font-weight="normal" fill="#262626" textLength="11.8" lengthAdjust="spacingAndGlyphs" stroke="#262626" stroke-width="0.2">0.1</text>
<text x="218.00" y="355.50" font-family='"Liberation Sans", sans-serif' font-size="9.2" text-anchor="start" font-weight="normal" fill="#262626" textLength="18.3" lengthAdjust="spacingAndGlyphs" stroke="#262626" stroke-width="0.2">0.05</text>
<text x="232.10" y="405.40" font-family='"Liberation Sans", sans-serif' font-size="9.2" text-anchor="start" font-weight="normal" fill="#262626" textLength="5.3" lengthAdjust="spacingAndGlyphs" stroke="#262626" stroke-width="0.2">0</text>
<text x="213.60" y="455.90" font-family='"Liberation Sans", sans-serif' font-size="9.2" text-anchor="start" font-weight="normal" fill="#262626" textLength="21.9" lengthAdjust="spacingAndGlyphs" stroke="#262626" stroke-width="0.2">-0.05</text>
<text x="219.20" y="505.50" font-family='"Liberation Sans", sans-serif' font-size="9.2" text-anchor="start" font-weight="normal" fill="#262626" textLength="15.7" lengthAdjust="spacingAndGlyphs" stroke="#262626" stroke-width="0.2">-0.1</text>
<rect x="244.30" y="510.70" width="53.40" height="32.10" fill="none" stroke="#1e1e1e" stroke-width="1.2"/>
<rect x="304.20" y="510.70" width="52.70" height="32.10" fill="none" stroke="#1e1e1e" stroke-width="1.2"/>
<text x="252.70" y="522.50" font-family='"Liberation Serif", serif' font-size="11.5" text-anchor="start" font-weight="bold" fill="#111" textLength="37.4" lengthAdjust="spacingAndGlyphs" stroke="#111" stroke-width="0.3">pre-task</text>
<text x="249.00" y="537.50" font-family='"Liberation Serif", serif' font-size="11.5" text-anchor="start" font-weight="bold" fill="#111" textLength="44.8" lengthAdjust="spacingAndGlyphs" stroke="#111" stroke-width="0.3">inhalation</text>
<text x="310.50" y="522.50" font-family='"Liberation Serif", serif' font-size="11.5" text-anchor="start" font-weight="bold" fill="#111" textLength="40.0" lengthAdjust="spacingAndGlyphs" stroke="#111" stroke-width="0.3">post-task</text>
<text x="308.10" y="537.50" font-family='"Liberation Serif", serif' font-size="11.5" text-anchor="start" font-weight="bold" fill="#111" textLength="44.8" lengthAdjust="spacingAndGlyphs" stroke="#111" stroke-width="0.3">inhalation</text>
</svg>
</body></html>
